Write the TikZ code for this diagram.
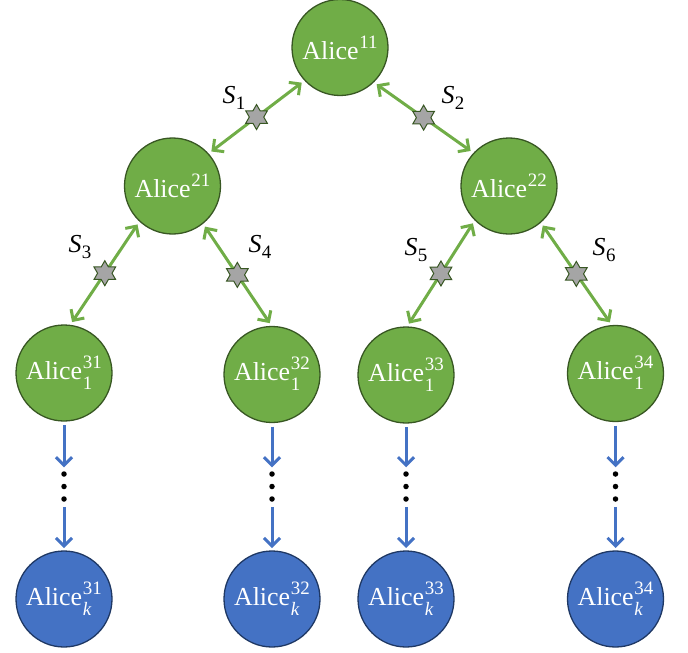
\documentclass[tikz,border=0pt]{standalone}
\usepackage{fontspec}
\setmainfont{Liberation Serif}
\usetikzlibrary{arrows.meta,shapes.geometric}
\definecolor{gfill}{HTML}{70AD47}
\definecolor{gdraw}{HTML}{385723}
\definecolor{bfill}{HTML}{4472C4}
\definecolor{bdraw}{HTML}{1F3864}
\definecolor{sfill}{HTML}{A5A5A5}
\newcommand\alicen[2]{Alice\kern0.8pt\begin{tabular}[c]{@{}l@{}}\fontsize{19}{19}\selectfont #1\\[-7pt]\fontsize{19}{19}\selectfont #2\end{tabular}}
\newcommand\alicet[1]{Alice\kern0.8pt\raisebox{0.42em}{\fontsize{19}{19}\selectfont #1}}
\newcommand\slab[1]{\textit{S}\kern0.5pt\raisebox{-0.25em}{\fontsize{19}{19}\selectfont #1}}
\begin{document}
\begin{tikzpicture}[x=1bp,y=-1bp,
  gnode/.style={circle,fill=gfill,draw=gdraw,line width=1.3bp,minimum size=96bp,inner sep=0pt,outer sep=0pt,text=white,font=\fontsize{26}{28}\selectfont},
  bnode/.style={gnode,fill=bfill,draw=bdraw},
  tipb/.tip={Straight Barb[length=8bp,width=16bp]},
  garrow/.style={draw=gfill,line width=3bp,tipb-tipb,shorten <=4bp,shorten >=4bp},
  barrow/.style={draw=bfill,line width=3bp,-tipb},
  starnode/.style={star,star points=6,star point ratio=1.73,minimum size=25bp,inner sep=0pt,fill=sfill,draw=gdraw,line width=1bp},
  dotnode/.style={circle,fill=black,minimum size=5.5bp,inner sep=0pt,outer sep=0pt},
  slabel/.style={font=\fontsize{26}{28}\selectfont}]
\useasboundingbox (0,0) rectangle (688,653);
% green nodes
\node[gnode] (a11) at (340,47.5) {\alicet{11}};
\node[gnode] (a21) at (172.5,186) {\alicet{21}};
\node[gnode] (a22) at (509,186) {\alicet{22}};
\node[gnode] (b1) at (64,373) {\alicen{31}{1}};
\node[gnode] (b2) at (272,374.5) {\alicen{32}{1}};
\node[gnode] (b3) at (406,375) {\alicen{33}{1}};
\node[gnode] (b4) at (615.5,373.5) {\alicen{34}{1}};
% blue nodes
\node[bnode] (c1) at (64,599) {\alicen{31}{\textit{k}}};
\node[bnode] (c2) at (272,599) {\alicen{32}{\textit{k}}};
\node[bnode] (c3) at (406,599) {\alicen{33}{\textit{k}}};
\node[bnode] (c4) at (615.5,599) {\alicen{34}{\textit{k}}};
% green double arrows with stars
\draw[garrow] (a21.42) -- node[starnode] (st1) {} (a11.223.5);
\draw[garrow] (a11.314) -- node[starnode] (st2) {} (a22.137.4);
\draw[garrow] (a21.227.7) -- node[starnode] (st3) {} (b1.83.7);
\draw[garrow] (a21.309.8) -- node[starnode] (st4) {} (b2.90);
\draw[garrow] (a22.225) -- node[starnode] (st5) {} (b3.89);
\draw[garrow] (a22.311) -- node[starnode] (st6) {} (b4.94);
% labels
\node[slabel] (l1) at (234,98) {\slab{1}};
\node[slabel] (l2) at (453,98) {\slab{2}};
\node[slabel] (l3) at (80,247) {\slab{3}};
\node[slabel] (l4) at (260,247) {\slab{4}};
\node[slabel] (l5) at (416,250) {\slab{5}};
\node[slabel] (l6) at (604,250) {\slab{6}};
% dots and blue arrows
\foreach \i/\x in {1/64,2/272,3/406,4/615.5}{
  \node[dotnode] (d\i a) at (\x,474) {};
  \node[dotnode] (d\i b) at (\x,486.5) {};
  \node[dotnode] (d\i c) at (\x,499) {};
}
\draw[barrow,shorten <=4bp,shorten >=4bp] (b1) -- (d1a);
\draw[barrow,shorten <=5bp,shorten >=3bp] (d1c) -- (c1);
\draw[barrow,shorten <=4bp,shorten >=4bp] (b2) -- (d2a);
\draw[barrow,shorten <=5bp,shorten >=3bp] (d2c) -- (c2);
\draw[barrow,shorten <=4bp,shorten >=4bp] (b3) -- (d3a);
\draw[barrow,shorten <=5bp,shorten >=3bp] (d3c) -- (c3);
\draw[barrow,shorten <=4bp,shorten >=4bp] (b4) -- (d4a);
\draw[barrow,shorten <=5bp,shorten >=3bp] (d4c) -- (c4);
\end{tikzpicture}
\end{document}
